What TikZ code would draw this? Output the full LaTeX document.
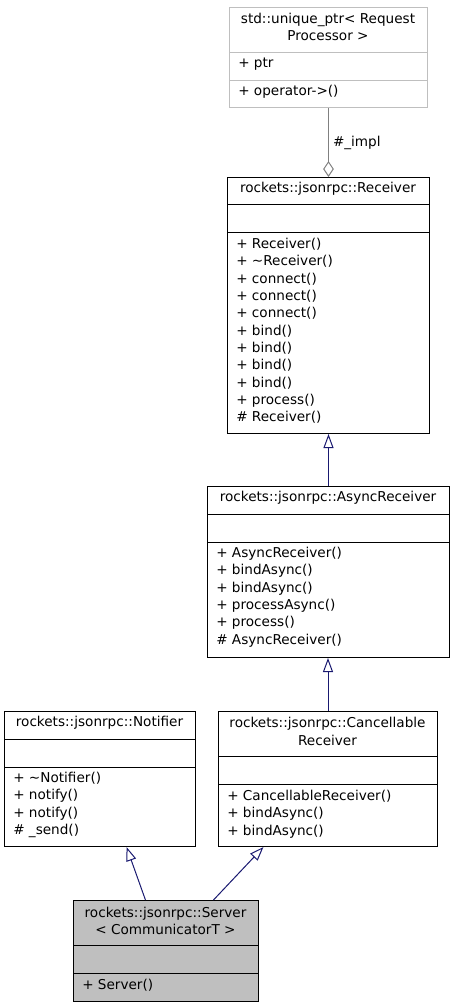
\documentclass[tikz,border=0pt]{standalone}
\usepackage{fontspec}
\setmainfont{DejaVu Sans}
\usetikzlibrary{arrows.meta}

\definecolor{edgeblue}{HTML}{191970}
\definecolor{boxgray}{HTML}{BFBFBF}

\begin{document}
\begin{tikzpicture}[
    x=0.75pt, y=-0.75pt,
    font=\fontsize{10.2}{13}\selectfont,
    cls/.style={rectangle, draw, line width=0.75pt, anchor=north west, inner sep=0pt},
    extcls/.style={cls, draw=boxgray},
    sep/.style={line width=0.75pt},
    title/.style={align=center, inner sep=0pt},
    member/.style={align=left, anchor=west, inner sep=0pt},
    inherit/.style={draw=edgeblue, line width=0.75pt,
                    -{Triangle[open, length=10.5pt, width=7.5pt]}},
    usage/.style={draw=gray, line width=0.75pt,
                  -{Diamond[open, length=12pt, width=8pt]}}
]
    \useasboundingbox (0,0) rectangle (453,1008);

    % classes
    \node[extcls, minimum width=148.5pt, minimum height=75pt] (uptr) at (229,7) {};
    \node[cls, minimum width=151.5pt, minimum height=192pt] (recv) at (227,177) {};
    \node[cls, minimum width=181.5pt, minimum height=128.25pt] (async) at (207,486) {};
    \node[cls, minimum width=143.25pt, minimum height=101.25pt] (notif) at (4,711) {};
    \node[cls, minimum width=164.25pt, minimum height=101.25pt] (canc) at (218,711) {};
    \node[cls, fill=boxgray, minimum width=138.75pt, minimum height=75.75pt] (server) at (73,900) {};

    % compartments
    \draw[sep, boxgray] (uptr.west |- 0,52) -- (uptr.east |- 0,52);
    \draw[sep, boxgray] (uptr.west |- 0,80) -- (uptr.east |- 0,80);
    \draw[sep] (recv.west |- 0,204) -- (recv.east |- 0,204);
    \draw[sep] (recv.west |- 0,232) -- (recv.east |- 0,232);
    \draw[sep] (async.west |- 0,514) -- (async.east |- 0,514);
    \draw[sep] (async.west |- 0,542) -- (async.east |- 0,542);
    \draw[sep] (notif.west |- 0,739) -- (notif.east |- 0,739);
    \draw[sep] (notif.west |- 0,767) -- (notif.east |- 0,767);
    \draw[sep] (canc.west |- 0,756) -- (canc.east |- 0,756);
    \draw[sep] (canc.west |- 0,784) -- (canc.east |- 0,784);
    \draw[sep] (server.west |- 0,945) -- (server.east |- 0,945);
    \draw[sep] (server.west |- 0,973) -- (server.east |- 0,973);

    % texts
    \node[title] (uptrname) at (328,27) {std::unique\_ptr< Request\\Processor >};
    \node[member] (uptrattr) at (238,64) {+ ptr};
    \node[member] (uptrops) at (238,92) {+ operator->()};

    \node[title] (recvname) at (328,189) {rockets::jsonrpc::Receiver};
    \node[member] (recvops) at (236,331) {+ Receiver()\\+ \textasciitilde Receiver()\\+ connect()\\+ connect()\\+ connect()\\+ bind()\\+ bind()\\+ bind()\\+ bind()\\+ process()\\\# Receiver()};

    \node[title] (asyncname) at (328,498) {rockets::jsonrpc::AsyncReceiver};
    \node[member] (asyncops) at (216,597) {+ AsyncReceiver()\\+ bindAsync()\\+ bindAsync()\\+ processAsync()\\+ process()\\\# AsyncReceiver()};

    \node[title] (notifname) at (99.5,723) {rockets::jsonrpc::Notifier};
    \node[member] (notifops) at (13,805) {+ \textasciitilde Notifier()\\+ notify()\\+ notify()\\\# \_send()};

    \node[title] (cancname) at (327.5,731.5) {rockets::jsonrpc::Cancellable\\Receiver};
    \node[member] (cancops) at (227,814) {+ CancellableReceiver()\\+ bindAsync()\\+ bindAsync()};

    \node[title] (servername) at (165.5,921) {rockets::jsonrpc::Server\\< CommunicatorT >};
    \node[member] (serverops) at (82,985) {+ Server()};

    % relations
    \draw[usage] (uptr.south) -- node[right, inner sep=3pt] {\#\_impl} (recv.north);
    \draw[inherit] (async.north) -- (recv.south);
    \draw[inherit] (canc.north) -- (canc.north |- async.south);
    \draw[inherit] ([xshift=-15.4pt]server.north) -- ([xshift=19.9pt]notif.south);
    \draw[inherit] ([xshift=35.6pt]server.north) -- ([xshift=-48.4pt]canc.south);
\end{tikzpicture}
\end{document}
